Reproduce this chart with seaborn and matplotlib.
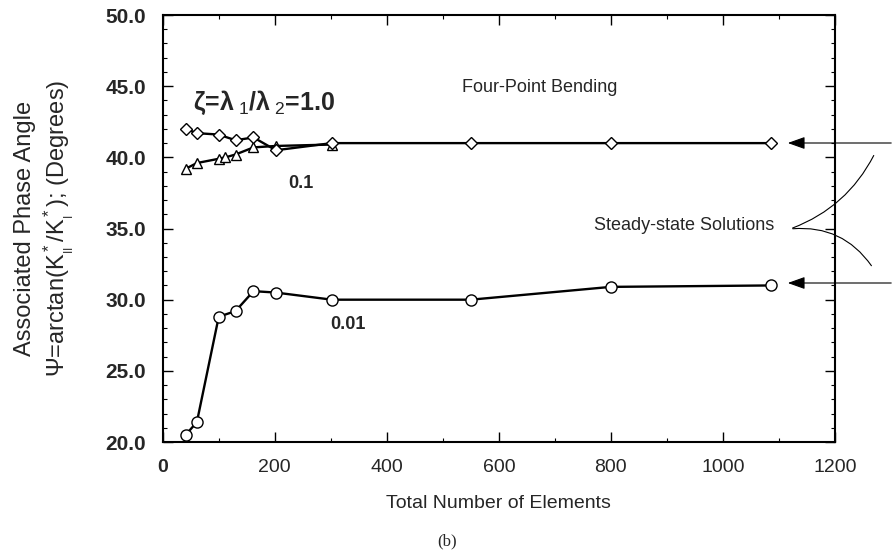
import matplotlib
matplotlib.use("Agg")
import matplotlib.pyplot as plt
import seaborn as sns
import pandas as pd
from matplotlib.patches import FancyArrowPatch

sns.set_theme(style="ticks")
plt.rcParams['font.family'] = ['Liberation Sans', 'DejaVu Sans']
plt.rcParams['mathtext.fontset'] = 'custom'
plt.rcParams['mathtext.rm'] = 'Liberation Sans'
plt.rcParams['mathtext.it'] = 'Liberation Sans'
plt.rcParams['mathtext.bf'] = 'Liberation Sans:bold'

# data
x_diamond = [41, 61, 100, 130, 162, 202, 302, 550, 800, 1085]
y_diamond = [42.0, 41.7, 41.6, 41.2, 41.4, 40.5, 41.0, 41.0, 41.0, 41.0]
x_triangle = [41, 61, 100, 112, 130, 162, 202, 302]
y_triangle = [39.2, 39.6, 39.9, 40.0, 40.2, 40.7, 40.8, 40.9]
x_circle = [41, 61, 100, 130, 162, 202, 302, 550, 800, 1085]
y_circle = [20.5, 21.4, 28.8, 29.2, 30.6, 30.5, 30.0, 30.0, 30.9, 31.0]

fig = plt.figure(figsize=(8.94, 5.56), dpi=100)
ax = fig.add_axes([0.182, 0.205, 0.752, 0.768])

for xs, ys, m, ms in [(x_triangle, y_triangle, '^', 7),
                      (x_diamond, y_diamond, 'D', 6),
                      (x_circle, y_circle, 'o', 8)]:
    df = pd.DataFrame({'x': xs, 'y': ys})
    sns.lineplot(data=df, x='x', y='y', ax=ax, color='black', lw=1.7,
                 marker=m, markersize=ms, markerfacecolor='white',
                 markeredgecolor='black', markeredgewidth=1.0)

ax.set_xlim(0, 1200)
ax.set_ylim(20, 50)
ax.set_xticks([0, 200, 400, 600, 800, 1000, 1200])
ax.set_yticks([20, 25, 30, 35, 40, 45, 50])
ax.set_yticklabels(['20.0', '25.0', '30.0', '35.0', '40.0', '45.0', '50.0'],
                   fontweight='bold', fontsize=15)
ax.set_xticklabels(['0', '200', '400', '600', '800', '1000', '1200'], fontsize=14)
ax.get_xticklabels()[0].set_fontweight('bold')
ax.set_xticks([100, 300, 500, 700, 900, 1100], minor=True)
ax.set_yticks([21, 22, 23, 24, 26, 27, 28, 29, 31, 32, 33, 34, 36, 37, 38, 39, 41, 42, 43, 44, 46, 47, 48, 49], minor=True)
ax.tick_params(which='both', direction='in', top=True, right=True, color='black')
ax.tick_params(which='major', length=7, width=1.0, pad=12)
ax.tick_params(which='minor', length=3, width=0.8)
for s in ax.spines.values():
    s.set_linewidth(1.5)
    s.set_color('black')
ax.set_xlabel('Total Number of Elements', fontsize=14, labelpad=14)
ax.set_ylabel('')

fig.text(0.028, 0.59, 'Associated Phase Angle', rotation=90, ha='center', va='center', fontsize=17)
fig.text(0.066, 0.59, r'$\Psi$=arctan(K$^*_{_{II}}$/K$^*_{_I}$); (Degrees)', rotation=90,
         ha='center', va='center', fontsize=17)

ax.text(0.56, 0.831, 'Four-Point Bending', transform=ax.transAxes, fontsize=13, ha='center', va='center')
ax.text(0.045, 0.795, r'ζ=λ$_{\ 1}$/λ$_{\ 2}$=1.0', transform=ax.transAxes,
        fontsize=18, fontweight='bold', ha='left', va='center')
ax.text(0.205, 0.605, '0.1', transform=ax.transAxes, fontsize=13, fontweight='bold', ha='center', va='center')
ax.text(0.275, 0.275, '0.01', transform=ax.transAxes, fontsize=13, fontweight='bold', ha='center', va='center')
ax.text(0.91, 0.506, 'Steady-state Solutions', transform=ax.transAxes, fontsize=13, ha='right', va='center')

# arrows on right
def fx(px): return px / 894
def fy(py): return 1 - py / 556
for py in [143, 283]:
    fig.add_artist(FancyArrowPatch((fx(894), fy(py)), (fx(785), fy(py)), transform=fig.transFigure,
                                   arrowstyle='-|>,head_length=7,head_width=2.5', color='black', lw=0.8,
                                   mutation_scale=1.5))
fig.add_artist(FancyArrowPatch((fx(790), fy(229)), (fx(875), fy(153)), transform=fig.transFigure,
                               arrowstyle='-', connectionstyle='arc3,rad=0.2', color='black', lw=0.8))
fig.add_artist(FancyArrowPatch((fx(790), fy(229)), (fx(873), fy(268)), transform=fig.transFigure,
                               arrowstyle='-', connectionstyle='arc3,rad=-0.3', color='black', lw=0.8))

fig.text(0.5, 0.027, '(b)', fontsize=12, family='Liberation Serif', ha='center', va='center')

fig.savefig('out.png', dpi=100)
